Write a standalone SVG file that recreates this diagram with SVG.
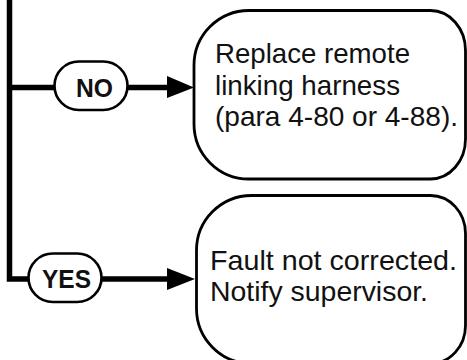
<svg xmlns="http://www.w3.org/2000/svg" width="467" height="360" viewBox="0 0 467 360">
<defs>
<style>
.box{fill:#fff;stroke:#000;stroke-width:2.8}
.pill{fill:#fff;stroke:#000;stroke-width:2.6}
.line{fill:none;stroke:#000;stroke-width:5.5;stroke-linejoin:miter}
.head{fill:#000}
.t{font-family:"Liberation Sans",Arial,sans-serif;font-size:28.5px;fill:#111}
.lbl{font-family:"Liberation Sans",Arial,sans-serif;font-size:26px;font-weight:bold;fill:#111}
</style>
</defs>
<rect width="467" height="360" fill="#fff"/>
<g id="connectors">
<path class="line" d="M9.5,0 V279 H28"/>
<path class="line" d="M9.5,87.5 H54"/>
<path class="line" d="M128,87.5 H170"/>
<polygon class="head" points="167,76 194,87.5 167,98"/>
<path class="line" d="M102,279 H170"/>
<polygon class="head" points="167,268 195,279 167,290"/>
</g>
<g id="no">
<rect class="pill" x="54.5" y="61.5" width="73" height="48.5" rx="24.25"/>
<text class="lbl" x="76" y="97" textLength="37" lengthAdjust="spacingAndGlyphs">NO</text>
</g>
<g id="yes">
<rect class="pill" x="28.5" y="253.5" width="73" height="48.5" rx="24.25"/>
<text class="lbl" x="42" y="288" textLength="49" lengthAdjust="spacingAndGlyphs">YES</text>
</g>
<g id="replace">
<path class="box" d="M249,10.5 H430.5 A35,40 0 0 1 465.5,50.5 V139 A35,40 0 0 1 430.5,179 H249 A55,55 0 0 1 194,124 V65.5 A55,55 0 0 1 249,10.5 Z"/>
<text class="t" x="215" y="63" textLength="195" lengthAdjust="spacingAndGlyphs">Replace remote</text>
<text class="t" x="215" y="94.5" textLength="185" lengthAdjust="spacingAndGlyphs">linking harness</text>
<text class="t" x="215" y="126" textLength="243" lengthAdjust="spacingAndGlyphs">(para 4-80 or 4-88).</text>
</g>
<g id="fault">
<path class="box" d="M251.5,195.5 H430.5 A35,38 0 0 1 465.5,233.5 V325.5 A35,38 0 0 1 430.5,363.5 H251.5 A55,55 0 0 1 196.5,308.5 V250.5 A55,55 0 0 1 251.5,195.5 Z"/>
<text class="t" x="210" y="270" textLength="247" lengthAdjust="spacingAndGlyphs">Fault not corrected.</text>
<text class="t" x="210" y="300.5" textLength="218" lengthAdjust="spacingAndGlyphs">Notify supervisor.</text>
</g>
</svg>
